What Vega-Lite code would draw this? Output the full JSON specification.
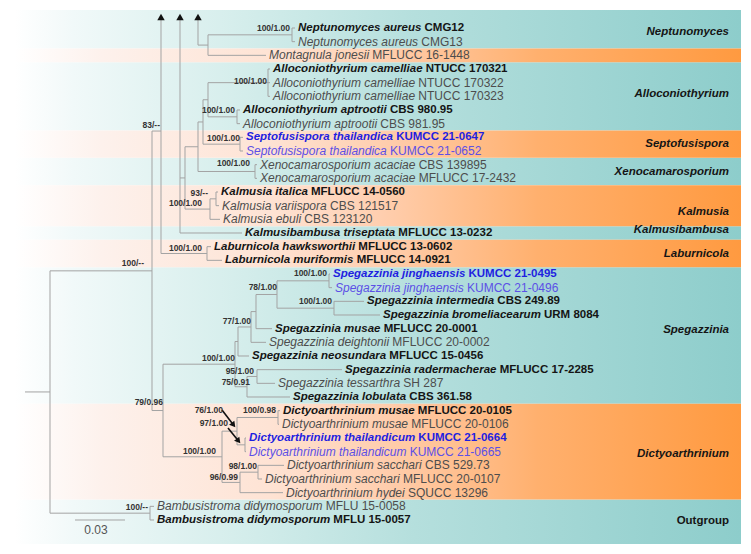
{
 "$schema": "https://vega.github.io/schema/vega-lite/v6.json",
 "width": 751, "height": 554,
 "autosize": {"type": "fit", "contains": "padding"},
 "padding": 0,
 "background": "white",
 "config": {"view": {"stroke": null}},
 "datasets": {
  "bands": [
   {"group": "Neptunomyces", "kind": "teal", "x": -0.006, "x2": 0.4296, "y": -0.317, "y2": 2.5},
   {"group": "Montagnula", "kind": "orange", "x": -0.006, "x2": 0.4296, "y": 2.5, "y2": 3.5},
   {"group": "Alloconiothyrium", "kind": "teal", "x": -0.006, "x2": 0.4296, "y": 3.5, "y2": 8.5},
   {"group": "Septofusispora", "kind": "orange", "x": -0.006, "x2": 0.4296, "y": 8.5, "y2": 10.5},
   {"group": "Xenocamarosporium", "kind": "teal", "x": -0.006, "x2": 0.4296, "y": 10.5, "y2": 12.5},
   {"group": "Kalmusia", "kind": "orange", "x": -0.006, "x2": 0.4296, "y": 12.5, "y2": 15.5},
   {"group": "Kalmusibambusa", "kind": "teal", "x": -0.006, "x2": 0.4296, "y": 15.5, "y2": 16.5},
   {"group": "Laburnicola", "kind": "orange", "x": -0.006, "x2": 0.4296, "y": 16.5, "y2": 18.5},
   {"group": "Spegazzinia", "kind": "teal", "x": -0.006, "x2": 0.4296, "y": 18.5, "y2": 28.5},
   {"group": "Dictyoarthrinium", "kind": "orange", "x": -0.006, "x2": 0.4296, "y": 28.5, "y2": 35.5},
   {"group": "Outgroup", "kind": "teal", "x": -0.006, "x2": 0.4296, "y": 35.5, "y2": 38.756}
  ],
  "edges": [
   {"x": 0.1602, "x2": 0.1602, "y": 1, "y2": 2},
   {"x": 0.1098, "x2": 0.1098, "y": 1.5, "y2": 3},
   {"x": 0.1038, "x2": 0.1038, "y": 0.3, "y2": 2.25},
   {"x": 0.1458, "x2": 0.1458, "y": 4, "y2": 6},
   {"x": 0.1272, "x2": 0.1272, "y": 7, "y2": 8},
   {"x": 0.1098, "x2": 0.1098, "y": 5, "y2": 7.5},
   {"x": 0.129, "x2": 0.129, "y": 9, "y2": 10},
   {"x": 0.1068, "x2": 0.1068, "y": 6.25, "y2": 9.5},
   {"x": 0.138, "x2": 0.138, "y": 11, "y2": 12},
   {"x": 0.1038, "x2": 0.1038, "y": 7.875, "y2": 11.5},
   {"x": 0.1146, "x2": 0.1146, "y": 13, "y2": 14},
   {"x": 0.111, "x2": 0.111, "y": 13.5, "y2": 15},
   {"x": 0.096, "x2": 0.096, "y": 9.69, "y2": 14.25},
   {"x": 0.093, "x2": 0.093, "y": 0.3, "y2": 16},
   {"x": 0.1092, "x2": 0.1092, "y": 17, "y2": 18},
   {"x": 0.0816, "x2": 0.0816, "y": 0.3, "y2": 17.5},
   {"x": 0.0762, "x2": 0.0762, "y": 8.54, "y2": 28.99},
   {"x": 0.0828, "x2": 0.0828, "y": 25.6, "y2": 32.375},
   {"x": 0.015, "x2": 0.015, "y": 18.77, "y2": 36.5},
   {"x": 0.075, "x2": 0.075, "y": 36, "y2": 37},
   {"x": 0.1824, "x2": 0.1824, "y": 19, "y2": 20},
   {"x": 0.1854, "x2": 0.1854, "y": 21, "y2": 22},
   {"x": 0.1512, "x2": 0.1512, "y": 19.5, "y2": 21.5},
   {"x": 0.1386, "x2": 0.1386, "y": 20.5, "y2": 23},
   {"x": 0.1356, "x2": 0.1356, "y": 21.75, "y2": 24},
   {"x": 0.1278, "x2": 0.1278, "y": 22.875, "y2": 25},
   {"x": 0.1392, "x2": 0.1392, "y": 26, "y2": 27},
   {"x": 0.1332, "x2": 0.1332, "y": 26.5, "y2": 28},
   {"x": 0.126, "x2": 0.126, "y": 23.94, "y2": 27.25},
   {"x": 0.1518, "x2": 0.1518, "y": 29, "y2": 30},
   {"x": 0.132, "x2": 0.132, "y": 31, "y2": 32},
   {"x": 0.1272, "x2": 0.1272, "y": 29.5, "y2": 31.5},
   {"x": 0.1398, "x2": 0.1398, "y": 33, "y2": 34},
   {"x": 0.129, "x2": 0.129, "y": 33.5, "y2": 35},
   {"x": 0.1182, "x2": 0.1182, "y": 30.5, "y2": 34.25},
   {"x": 0, "x2": 0.015, "y": 27.63, "y2": 27.63},
   {"x": 0.015, "x2": 0.0762, "y": 18.77, "y2": 18.77},
   {"x": 0.015, "x2": 0.075, "y": 36.5, "y2": 36.5},
   {"x": 0.075, "x2": 0.0774, "y": 36, "y2": 36},
   {"x": 0.075, "x2": 0.0774, "y": 37, "y2": 37},
   {"x": 0.0762, "x2": 0.0816, "y": 8.54, "y2": 8.54},
   {"x": 0.0762, "x2": 0.0828, "y": 28.99, "y2": 28.99},
   {"x": 0.0816, "x2": 0.1092, "y": 17.5, "y2": 17.5},
   {"x": 0.1092, "x2": 0.1116, "y": 17, "y2": 17},
   {"x": 0.1092, "x2": 0.1182, "y": 18, "y2": 18},
   {"x": 0.093, "x2": 0.1302, "y": 16, "y2": 16},
   {"x": 0.093, "x2": 0.096, "y": 11.97, "y2": 11.97},
   {"x": 0.096, "x2": 0.1038, "y": 9.69, "y2": 9.69},
   {"x": 0.096, "x2": 0.111, "y": 14.25, "y2": 14.25},
   {"x": 0.111, "x2": 0.1146, "y": 13.5, "y2": 13.5},
   {"x": 0.111, "x2": 0.117, "y": 15, "y2": 15},
   {"x": 0.1146, "x2": 0.1158, "y": 13, "y2": 13},
   {"x": 0.1146, "x2": 0.1164, "y": 14, "y2": 14},
   {"x": 0.1038, "x2": 0.1068, "y": 7.875, "y2": 7.875},
   {"x": 0.1038, "x2": 0.138, "y": 11.5, "y2": 11.5},
   {"x": 0.138, "x2": 0.1392, "y": 11, "y2": 11},
   {"x": 0.138, "x2": 0.1392, "y": 12, "y2": 12},
   {"x": 0.1068, "x2": 0.1098, "y": 6.25, "y2": 6.25},
   {"x": 0.1068, "x2": 0.129, "y": 9.5, "y2": 9.5},
   {"x": 0.129, "x2": 0.1308, "y": 9, "y2": 9},
   {"x": 0.129, "x2": 0.1308, "y": 10, "y2": 10},
   {"x": 0.1098, "x2": 0.1458, "y": 5, "y2": 5},
   {"x": 0.1098, "x2": 0.1272, "y": 7.5, "y2": 7.5},
   {"x": 0.1458, "x2": 0.147, "y": 4, "y2": 4},
   {"x": 0.1458, "x2": 0.147, "y": 5, "y2": 5},
   {"x": 0.1458, "x2": 0.147, "y": 6, "y2": 6},
   {"x": 0.1272, "x2": 0.129, "y": 7, "y2": 7},
   {"x": 0.1272, "x2": 0.129, "y": 8, "y2": 8},
   {"x": 0.1038, "x2": 0.1098, "y": 2.25, "y2": 2.25},
   {"x": 0.1098, "x2": 0.1602, "y": 1.5, "y2": 1.5},
   {"x": 0.1098, "x2": 0.1446, "y": 3, "y2": 3},
   {"x": 0.1602, "x2": 0.162, "y": 1, "y2": 1},
   {"x": 0.1602, "x2": 0.162, "y": 2, "y2": 2},
   {"x": 0.0828, "x2": 0.126, "y": 25.6, "y2": 25.6},
   {"x": 0.126, "x2": 0.1278, "y": 23.94, "y2": 23.94},
   {"x": 0.126, "x2": 0.1332, "y": 27.25, "y2": 27.25},
   {"x": 0.1278, "x2": 0.1356, "y": 22.875, "y2": 22.875},
   {"x": 0.1278, "x2": 0.1344, "y": 25, "y2": 25},
   {"x": 0.1356, "x2": 0.1386, "y": 21.75, "y2": 21.75},
   {"x": 0.1356, "x2": 0.1446, "y": 24, "y2": 24},
   {"x": 0.1386, "x2": 0.1512, "y": 20.5, "y2": 20.5},
   {"x": 0.1386, "x2": 0.1482, "y": 23, "y2": 23},
   {"x": 0.1512, "x2": 0.1824, "y": 19.5, "y2": 19.5},
   {"x": 0.1512, "x2": 0.1854, "y": 21.5, "y2": 21.5},
   {"x": 0.1824, "x2": 0.183, "y": 19, "y2": 19},
   {"x": 0.1824, "x2": 0.1842, "y": 20, "y2": 20},
   {"x": 0.1854, "x2": 0.2034, "y": 21, "y2": 21},
   {"x": 0.1854, "x2": 0.213, "y": 22, "y2": 22},
   {"x": 0.1332, "x2": 0.1392, "y": 26.5, "y2": 26.5},
   {"x": 0.1332, "x2": 0.159, "y": 28, "y2": 28},
   {"x": 0.1392, "x2": 0.1902, "y": 26, "y2": 26},
   {"x": 0.1392, "x2": 0.15, "y": 27, "y2": 27},
   {"x": 0.0828, "x2": 0.1182, "y": 32.375, "y2": 32.375},
   {"x": 0.1182, "x2": 0.1272, "y": 30.5, "y2": 30.5},
   {"x": 0.1182, "x2": 0.129, "y": 34.25, "y2": 34.25},
   {"x": 0.1272, "x2": 0.1518, "y": 29.5, "y2": 29.5},
   {"x": 0.1272, "x2": 0.132, "y": 31.5, "y2": 31.5},
   {"x": 0.1518, "x2": 0.153, "y": 29, "y2": 29},
   {"x": 0.1518, "x2": 0.1524, "y": 30, "y2": 30},
   {"x": 0.132, "x2": 0.1326, "y": 31, "y2": 31},
   {"x": 0.132, "x2": 0.1326, "y": 32, "y2": 32},
   {"x": 0.129, "x2": 0.1398, "y": 33.5, "y2": 33.5},
   {"x": 0.129, "x2": 0.1548, "y": 35, "y2": 35},
   {"x": 0.1398, "x2": 0.1554, "y": 33, "y2": 33},
   {"x": 0.1398, "x2": 0.1422, "y": 34, "y2": 34}
  ],
  "tips": [
   {"y": 1, "x": 0.162, "name": "Neptunomyces aureus", "strain": "CMG12", "sx": 0.2397, "ex": true, "new": false},
   {"y": 2, "x": 0.162, "name": "Neptunomyces aureus", "strain": "CMG13", "sx": 0.2378, "ex": false, "new": false},
   {"y": 3, "x": 0.1446, "name": "Montagnula jonesii", "strain": "MFLUCC 16-1448", "sx": 0.2084, "ex": false, "new": false},
   {"y": 4, "x": 0.147, "name": "Alloconiothyrium camelliae", "strain": "NTUCC 170321", "sx": 0.2404, "ex": true, "new": false},
   {"y": 5, "x": 0.147, "name": "Alloconiothyrium camelliae", "strain": "NTUCC 170322", "sx": 0.236, "ex": false, "new": false},
   {"y": 6, "x": 0.147, "name": "Alloconiothyrium camelliae", "strain": "NTUCC 170323", "sx": 0.236, "ex": false, "new": false},
   {"y": 7, "x": 0.129, "name": "Alloconiothyrium aptrootii", "strain": "CBS 980.95", "sx": 0.219, "ex": true, "new": false},
   {"y": 8, "x": 0.129, "name": "Alloconiothyrium aptrootii", "strain": "CBS 981.95", "sx": 0.2132, "ex": false, "new": false},
   {"y": 9, "x": 0.1308, "name": "Septofusispora thailandica", "strain": "KUMCC 21-0647", "sx": 0.2227, "ex": true, "new": true},
   {"y": 10, "x": 0.1308, "name": "Septofusispora thailandica", "strain": "KUMCC 21-0652", "sx": 0.219, "ex": false, "new": true},
   {"y": 11, "x": 0.1392, "name": "Xenocamarosporium acaciae", "strain": "CBS 139895", "sx": 0.2362, "ex": false, "new": false},
   {"y": 12, "x": 0.1392, "name": "Xenocamarosporium acaciae", "strain": "MFLUCC 17-2432", "sx": 0.2362, "ex": false, "new": false},
   {"y": 13, "x": 0.1158, "name": "Kalmusia italica", "strain": "MFLUCC 14-0560", "sx": 0.1716, "ex": true, "new": false},
   {"y": 14, "x": 0.1164, "name": "Kalmusia variispora", "strain": "CBS 121517", "sx": 0.183, "ex": false, "new": false},
   {"y": 15, "x": 0.117, "name": "Kalmusia ebuli", "strain": "CBS 123120", "sx": 0.1676, "ex": false, "new": false},
   {"y": 16, "x": 0.1302, "name": "Kalmusibambusa triseptata", "strain": "MFLUCC 13-0232", "sx": 0.224, "ex": true, "new": false},
   {"y": 17, "x": 0.1116, "name": "Laburnicola hawksworthii", "strain": "MFLUCC 13-0602", "sx": 0.2, "ex": true, "new": false},
   {"y": 18, "x": 0.1182, "name": "Laburnicola muriformis", "strain": "MFLUCC 14-0921", "sx": 0.199, "ex": true, "new": false},
   {"y": 19, "x": 0.183, "name": "Spegazzinia jinghaensis", "strain": "KUMCC 21-0495", "sx": 0.2661, "ex": true, "new": true},
   {"y": 20, "x": 0.1842, "name": "Spegazzinia jinghaensis", "strain": "KUMCC 21-0496", "sx": 0.2652, "ex": false, "new": true},
   {"y": 21, "x": 0.2034, "name": "Spegazzinia intermedia", "strain": "CBS 249.89", "sx": 0.2834, "ex": true, "new": false},
   {"y": 22, "x": 0.213, "name": "Spegazzinia bromeliacearum", "strain": "URM 8084", "sx": 0.3114, "ex": true, "new": false},
   {"y": 23, "x": 0.1482, "name": "Spegazzinia musae", "strain": "MFLUCC 20-0001", "sx": 0.2152, "ex": true, "new": false},
   {"y": 24, "x": 0.1446, "name": "Spegazzinia deightonii", "strain": "MFLUCC 20-0002", "sx": 0.2204, "ex": false, "new": false},
   {"y": 25, "x": 0.1344, "name": "Spegazzinia neosundara", "strain": "MFLUCC 15-0456", "sx": 0.2186, "ex": true, "new": false},
   {"y": 26, "x": 0.1902, "name": "Spegazzinia radermacherae", "strain": "MFLUCC 17-2285", "sx": 0.2848, "ex": true, "new": false},
   {"y": 27, "x": 0.15, "name": "Spegazzinia tessarthra", "strain": "SH 287", "sx": 0.227, "ex": false, "new": false},
   {"y": 28, "x": 0.159, "name": "Spegazzinia lobulata", "strain": "CBS 361.58", "sx": 0.2306, "ex": true, "new": false},
   {"y": 29, "x": 0.153, "name": "Dictyoarthrinium musae", "strain": "MFLUCC 20-0105", "sx": 0.2357, "ex": true, "new": false},
   {"y": 30, "x": 0.1524, "name": "Dictyoarthrinium musae", "strain": "MFLUCC 20-0106", "sx": 0.2318, "ex": false, "new": false},
   {"y": 31, "x": 0.1326, "name": "Dictyoarthrinium thailandicum", "strain": "KUMCC 21-0664", "sx": 0.236, "ex": true, "new": true},
   {"y": 32, "x": 0.1326, "name": "Dictyoarthrinium thailandicum", "strain": "KUMCC 21-0665", "sx": 0.2308, "ex": false, "new": true},
   {"y": 33, "x": 0.1554, "name": "Dictyoarthrinium sacchari", "strain": "CBS 529.73", "sx": 0.24, "ex": false, "new": false},
   {"y": 34, "x": 0.1422, "name": "Dictyoarthrinium sacchari", "strain": "MFLUCC 20-0107", "sx": 0.2268, "ex": false, "new": false},
   {"y": 35, "x": 0.1548, "name": "Dictyoarthrinium hydei", "strain": "SQUCC 13296", "sx": 0.2298, "ex": false, "new": false},
   {"y": 36, "x": 0.0774, "name": "Bambusistroma didymosporum", "strain": "MFLU 15-0058", "sx": 0.1804, "ex": false, "new": false},
   {"y": 37, "x": 0.0774, "name": "Bambusistroma didymosporum", "strain": "MFLU 15-0057", "sx": 0.185, "ex": true, "new": false}
  ],
  "support": [
   {"label": "100/1.00", "x": 0.159, "y": 1.0},
   {"label": "100/1.00", "x": 0.1452, "y": 4.88},
   {"label": "100/1.00", "x": 0.126, "y": 7.0},
   {"label": "100/1.00", "x": 0.129, "y": 9.05},
   {"label": "100/1.00", "x": 0.135, "y": 10.88},
   {"label": "93/--", "x": 0.1098, "y": 13.07},
   {"label": "100/1.00", "x": 0.1062, "y": 13.8},
   {"label": "83/--", "x": 0.081, "y": 8.1},
   {"label": "100/1.00", "x": 0.1062, "y": 17.09},
   {"label": "100/--", "x": 0.0714, "y": 18.19},
   {"label": "100/1.00", "x": 0.1812, "y": 18.92},
   {"label": "78/1.00", "x": 0.1512, "y": 19.95},
   {"label": "100/1.00", "x": 0.1842, "y": 20.97},
   {"label": "77/1.00", "x": 0.1356, "y": 22.43},
   {"label": "100/1.00", "x": 0.126, "y": 25.14},
   {"label": "95/1.00", "x": 0.1374, "y": 26.09},
   {"label": "75/0.91", "x": 0.135, "y": 26.9},
   {"label": "79/0.96", "x": 0.0828, "y": 28.36},
   {"label": "76/1.00", "x": 0.1188, "y": 28.94},
   {"label": "100/0.98", "x": 0.1506, "y": 28.94},
   {"label": "97/1.00", "x": 0.1218, "y": 29.9},
   {"label": "100/1.00", "x": 0.1146, "y": 31.94},
   {"label": "98/1.00", "x": 0.1392, "y": 33.03},
   {"label": "96/0.99", "x": 0.1278, "y": 33.83},
   {"label": "100/--", "x": 0.0738, "y": 36.04}
  ],
  "clades": [
   {"clade": "Neptunomyces", "x": 0.4224, "y": 1.29, "italic": true},
   {"clade": "Alloconiothyrium", "x": 0.4224, "y": 5.83, "italic": true},
   {"clade": "Septofusispora", "x": 0.4224, "y": 9.49, "italic": true},
   {"clade": "Xenocamarosporium", "x": 0.4224, "y": 11.54, "italic": true},
   {"clade": "Kalmusia", "x": 0.4224, "y": 14.46, "italic": true},
   {"clade": "Kalmusibambusa", "x": 0.4224, "y": 15.78, "italic": true},
   {"clade": "Laburnicola", "x": 0.4224, "y": 17.53, "italic": true},
   {"clade": "Spegazzinia", "x": 0.4224, "y": 23.1, "italic": true},
   {"clade": "Dictyoarthrinium", "x": 0.4224, "y": 32.16, "italic": true},
   {"clade": "Outgroup", "x": 0.4224, "y": 37.06, "italic": false}
  ],
  "collapsed": [
   {"x": 0.0816, "y": 0.2},
   {"x": 0.093, "y": 0.2},
   {"x": 0.1038, "y": 0.2}
  ],
  "pointers": [
   {"label": "76/1.00", "x": 0.1182, "y": 28.95, "x2": 0.1251, "y2": 30.05},
   {"label": "97/1.00", "x": 0.1218, "y": 30.27, "x2": 0.1281, "y2": 31.22}
  ],
  "scalebar": [
   {"x": 0.03, "x2": 0.06, "y": 37, "y2": 37, "label": "0.03", "lx": 0.0426, "ly": 37.72}
  ]
 },
 "encoding": {
  "x": {"field": "x", "type": "quantitative", "scale": {"domain": [-0.015, 0.4356], "nice": false, "zero": false}, "axis": null},
  "y": {"field": "y", "type": "quantitative", "scale": {"domain": [-1.0488, 39.488], "nice": false, "zero": false, "reverse": true}, "axis": null}
 },
 "layer": [
  {
   "data": {"name": "bands"},
   "transform": [{"filter": "datum.kind === 'teal'"}],
   "mark": {"type": "rect", "stroke": null, "fill": {"gradient": "linear", "x1": 0, "y1": 0, "x2": 1, "y2": 0, "stops": [
     {"offset": 0, "color": "#ffffff"}, {"offset": 0.08, "color": "#f1f9f9"}, {"offset": 0.3, "color": "#d6eeec"}, {"offset": 0.55, "color": "#b5dfdd"}, {"offset": 1, "color": "#8dcdcb"}]}},
   "encoding": {"x2": {"field": "x2"}, "y2": {"field": "y2"}}
  },
  {
   "data": {"name": "bands"},
   "transform": [{"filter": "datum.kind === 'orange'"}],
   "mark": {"type": "rect", "stroke": null, "fill": {"gradient": "linear", "x1": 0, "y1": 0, "x2": 1, "y2": 0, "stops": [
     {"offset": 0, "color": "#ffffff"}, {"offset": 0.12, "color": "#fdf1ec"}, {"offset": 0.35, "color": "#fee3d4"}, {"offset": 0.5, "color": "#ffcfb0"}, {"offset": 0.72, "color": "#ffb06e"}, {"offset": 1, "color": "#ff9a40"}]}},
   "encoding": {"x2": {"field": "x2"}, "y2": {"field": "y2"}}
  },
  {
   "data": {"name": "edges"},
   "mark": {"type": "rule", "color": "#a3a3a3", "strokeWidth": 1},
   "encoding": {"x2": {"field": "x2"}, "y2": {"field": "y2"}}
  },
  {
   "data": {"name": "scalebar"},
   "mark": {"type": "rule", "color": "#a3a3a3", "strokeWidth": 1},
   "encoding": {"x2": {"field": "x2"}, "y2": {"field": "y2"}}
  },
  {
   "data": {"name": "scalebar"},
   "mark": {"type": "text", "font": "Liberation Sans", "fontSize": 12, "color": "#555555", "align": "center", "baseline": "middle"},
   "encoding": {"x": {"field": "lx", "type": "quantitative"}, "y": {"field": "ly", "type": "quantitative"}, "text": {"field": "label"}}
  },
  {
   "data": {"name": "pointers"},
   "mark": {"type": "rule", "color": "#111111", "strokeWidth": 1.6},
   "encoding": {"x2": {"field": "x2"}, "y2": {"field": "y2"}}
  },
  {
   "data": {"name": "pointers"},
   "mark": {"type": "point", "shape": "triangle-up", "filled": true, "color": "#111111", "opacity": 1, "size": 45, "angle": 142},
   "encoding": {"x": {"field": "x2", "type": "quantitative"}, "y": {"field": "y2", "type": "quantitative"}}
  },
  {
   "data": {"name": "collapsed"},
   "mark": {"type": "point", "shape": "triangle-up", "filled": true, "color": "#111111", "opacity": 1, "size": 55}
  },
  {
   "data": {"name": "support"},
   "mark": {"type": "text", "font": "Liberation Sans", "fontWeight": "bold", "fontSize": 8.5, "color": "#333333", "align": "right", "baseline": "middle"},
   "encoding": {"text": {"field": "label"}}
  },
  {
   "data": {"name": "tips"},
   "transform": [{"filter": "datum.ex"}],
   "mark": {"type": "text", "font": "Liberation Sans", "fontWeight": "bold", "fontStyle": "italic", "fontSize": 11.5, "align": "left", "baseline": "middle", "dx": 3},
   "encoding": {"text": {"field": "name"}, "color": {"condition": {"test": "datum.new", "value": "#1f1fe0"}, "value": "#151515"}}
  },
  {
   "data": {"name": "tips"},
   "transform": [{"filter": "!datum.ex"}],
   "mark": {"type": "text", "font": "Liberation Sans", "fontStyle": "italic", "fontSize": 12, "align": "left", "baseline": "middle", "dx": 3},
   "encoding": {"text": {"field": "name"}, "color": {"condition": {"test": "datum.new", "value": "#5c50e6"}, "value": "#4d4d4d"}}
  },
  {
   "data": {"name": "tips"},
   "transform": [{"filter": "datum.ex"}],
   "mark": {"type": "text", "font": "Liberation Sans", "fontWeight": "bold", "fontSize": 11.5, "align": "left", "baseline": "middle"},
   "encoding": {"x": {"field": "sx", "type": "quantitative"}, "text": {"field": "strain"}, "color": {"condition": {"test": "datum.new", "value": "#1f1fe0"}, "value": "#151515"}}
  },
  {
   "data": {"name": "tips"},
   "transform": [{"filter": "!datum.ex"}],
   "mark": {"type": "text", "font": "Liberation Sans", "fontSize": 12, "align": "left", "baseline": "middle"},
   "encoding": {"x": {"field": "sx", "type": "quantitative"}, "text": {"field": "strain"}, "color": {"condition": {"test": "datum.new", "value": "#5c50e6"}, "value": "#4d4d4d"}}
  },
  {
   "data": {"name": "clades"},
   "transform": [{"filter": "datum.italic"}],
   "mark": {"type": "text", "font": "Liberation Sans", "fontWeight": "bold", "fontStyle": "italic", "fontSize": 11.5, "color": "#151515", "align": "right", "baseline": "middle"},
   "encoding": {"text": {"field": "clade"}}
  },
  {
   "data": {"name": "clades"},
   "transform": [{"filter": "!datum.italic"}],
   "mark": {"type": "text", "font": "Liberation Sans", "fontWeight": "bold", "fontSize": 11.5, "color": "#151515", "align": "right", "baseline": "middle"},
   "encoding": {"text": {"field": "clade"}}
  }
 ]
}
